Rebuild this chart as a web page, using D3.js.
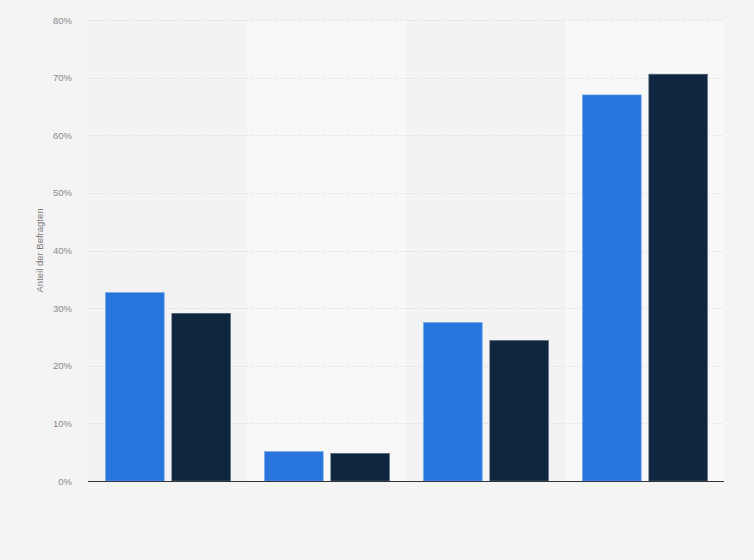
<!DOCTYPE html>
<html>
<head>
<meta charset="utf-8">
<script src="https://cdn.jsdelivr.net/npm/d3@7"></script>
<style>
  body { margin: 0; background: #f4f4f4; }
  svg { display: block; font-family: "Liberation Sans", Arial, sans-serif; }
</style>
</head>
<body>
<div id="chart"></div>
<script>
// data
var categories = ['A', 'B', 'C', 'D'];
var seriesNames = ['Serie 1', 'Serie 2'];
var series1 = [32.7, 5.1, 27.5, 67.0];
var series2 = [29.1, 4.8, 24.4, 70.6];
var yTicks = [0, 10, 20, 30, 40, 50, 60, 70, 80];
var yTitle = 'Anteil der Befragten';

var colors = ['#2876dd', '#10263e'];
var size = {width: 754, height: 560};
var margin = {top: 20, right: 30, bottom: 79, left: 88};

var svg = d3.select('#chart').append('svg')
  .attr('width', size.width)
  .attr('height', size.height);

var w = size.width - margin.left - margin.right;
var h = size.height - margin.top - margin.bottom;
var g = svg.append('g').attr('transform', 'translate(' + margin.left + ',' + margin.top + ')');

var x0 = d3.scaleBand().domain(categories).range([0, w]).paddingInner(0).paddingOuter(0);
var x1 = d3.scaleBand().domain(seriesNames).range([17, x0.bandwidth() - 16]).paddingInner(0.1);
var y = d3.scaleLinear().domain([0, 80]).range([h, 0]);

// alternating column bands
g.selectAll('.band')
  .data(categories)
  .enter()
  .append('rect')
  .attr('class', 'band')
  .attr('x', function(d){ return x0(d); })
  .attr('y', 0)
  .attr('width', x0.bandwidth())
  .attr('height', h)
  .attr('fill', function(d, i){ return i % 2 ? '#f8f8f8' : '#f3f3f3'; });

// grid
g.selectAll('.grid')
  .data(yTicks.filter(function(t){ return t > 0; }))
  .enter()
  .append('line')
  .attr('class', 'grid')
  .attr('x1', 0).attr('x2', w)
  .attr('y1', function(d){ return Math.round(y(d)) + 0.5; })
  .attr('y2', function(d){ return Math.round(y(d)) + 0.5; })
  .attr('stroke', '#d6d6d6')
  .attr('stroke-dasharray', '1,2');

// y labels
var yAxis = d3.axisLeft(y).tickValues(yTicks).tickSize(0).tickPadding(16)
  .tickFormat(function(d){ return d + '%'; });
var ya = g.append('g').call(yAxis);
ya.select('.domain').remove();
ya.selectAll('text').attr('fill', '#8a8a8a').attr('font-size', '9.5px')
  .attr('font-family', '"Liberation Sans", Arial, sans-serif');

// bars
var rows = categories.map(function(c, i){
  return {cat: c, vals: [series1[i], series2[i]]};
});
var grp = g.selectAll('.grp')
  .data(rows)
  .enter()
  .append('g')
  .attr('transform', function(d){ return 'translate(' + x0(d.cat) + ',0)'; });
grp.selectAll('rect')
  .data(function(d){ return d.vals.map(function(v, j){ return {name: seriesNames[j], v: v, j: j}; }); })
  .enter()
  .append('rect')
  .attr('x', function(d){ return x1(d.name) + 0.5; })
  .attr('y', function(d){ return y(d.v); })
  .attr('width', x1.bandwidth() - 1)
  .attr('height', function(d){ return h - y(d.v); })
  .attr('fill', function(d){ return colors[d.j]; })
  .attr('stroke', function(d){ return d.j ? '#5a6b7e' : '#6ea3ea'; })
  .attr('stroke-width', 0.6);

// x axis line
g.append('line')
  .attr('x1', 0).attr('x2', w)
  .attr('y1', h + 0.5).attr('y2', h + 0.5)
  .attr('stroke', '#333')
  .attr('stroke-width', 1.2);

// y title
svg.append('text')
  .attr('transform', 'translate(43,' + (margin.top + h / 2) + ') rotate(-90)')
  .attr('text-anchor', 'middle')
  .attr('fill', '#7a7a7a')
  .attr('font-size', '9.5px')
  .text(yTitle);
</script>
</body>
</html>
